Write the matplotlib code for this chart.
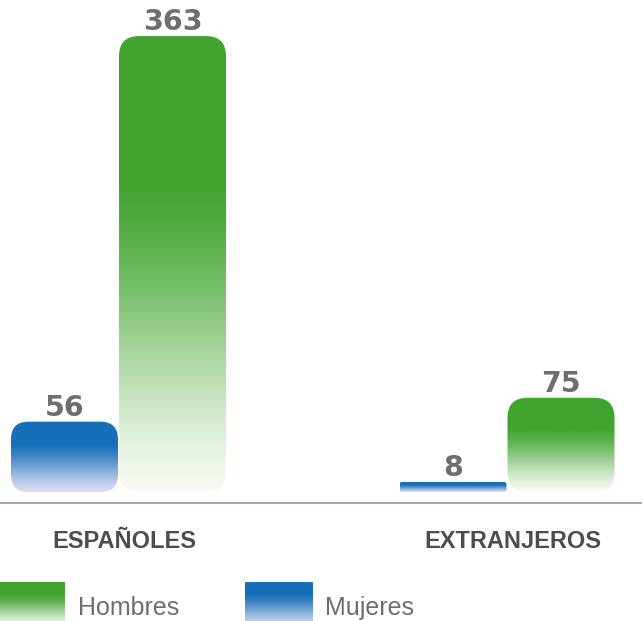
import numpy as np
import matplotlib
matplotlib.use("Agg")
import matplotlib.pyplot as plt
from matplotlib.patches import FancyBboxPatch
from matplotlib.colors import to_rgb

categories = ["ESPAÑOLES", "EXTRANJEROS"]
series_names = ["Mujeres", "Hombres"]
mujeres = [56, 8]
hombres = [363, 75]
colors = {"Hombres": "#40a42e", "Mujeres": "#1670b8"}
light = {"Hombres": "#f8fbf5", "Mujeres": "#d9ddf1"}

W, H = 642, 621
fig = plt.figure(figsize=(W / 100, H / 100), dpi=100)
ax = fig.add_axes([0, 0, 1, 1])
ax.set_axis_off()

# scales: px per unit
px_x = 388.5
px_y = 1.256
x0_px, y0_px = 118.5, 492.0
XL = (-x0_px / px_x, (W - x0_px) / px_x)
YL = (-(H - y0_px) / px_y, y0_px / px_y)
ax.set_xlim(*XL)
ax.set_ylim(*YL)

bar_w = 107 / px_x
radius_px = 20
mut_aspect = px_x / px_y


def gradient_fill(patch, x0, x1, y0, y1, top, bot, transform=None, solid=0.68):
    n = 256
    t = np.linspace(0, 1, n)
    u = np.clip(t / solid, 0, 1)
    f = 3 * u ** 2 - 2 * u ** 3
    f = 0.5 * f + 0.5 * u
    c1 = np.array(to_rgb(top))
    c0 = np.array(to_rgb(bot))
    rgb = c0[None, :] * (1 - f[:, None]) + c1[None, :] * f[:, None]
    img = np.ones((n, 1, 4))
    img[:, 0, :3] = rgb
    kw = {}
    if transform is not None:
        kw["transform"] = transform
    im = ax.imshow(img, extent=[x0, x1, y0, y1], origin="lower", aspect="auto",
                   interpolation="bilinear", zorder=2, **kw)
    im.set_clip_path(patch)


def draw_bar(xc, val, name):
    x0 = xc - bar_w / 2
    h_px = val * px_y
    r_px = min(radius_px, h_px / 4)
    patch = FancyBboxPatch((x0, 0), bar_w, val,
                           boxstyle=f"round,pad=0,rounding_size={r_px / px_x}",
                           mutation_aspect=mut_aspect,
                           facecolor="none", edgecolor="none", zorder=1)
    ax.add_patch(patch)
    gradient_fill(patch, x0, x0 + bar_w, 0, val, colors[name], light[name])
    ax.text(xc, val + 6 / px_y, f"{val}", ha="center", va="baseline",
            fontsize=20.5, fontweight="bold", color="#6e6e6e", family="DejaVu Sans")


offset = 54 / px_x
for i, cat in enumerate(categories):
    draw_bar(i - offset, mujeres[i], "Mujeres")
    draw_bar(i + offset, hombres[i], "Hombres")
    ax.text(i + 6 / px_x, -56 / px_y, cat, ha="center", va="baseline", fontsize=17,
            fontweight="bold", color="#4d4d4d", family="Liberation Sans")

ax.plot(XL, [-11 / px_y] * 2, color="#a8a8a8", lw=1.5, zorder=3)

# legend (axes fraction)
for name, lx, lw_, tx in [("Hombres", 0.0, 65, 78), ("Mujeres", 245, 68, 325)]:
    x0f = lx / W
    x1f = (lx + lw_) / W
    y0f = 0.0
    y1f = (H - 582) / H
    p = FancyBboxPatch((x0f, y0f), x1f - x0f, y1f - y0f, boxstyle="square,pad=0",
                       transform=ax.transAxes, facecolor="none", edgecolor="none")
    ax.add_patch(p)
    gradient_fill(p, x0f, x1f, y0f - 0.01, y1f, colors[name], light[name],
                  transform=ax.transAxes, solid=0.75)
    ax.text(tx / W, (H - 615) / H, name, transform=ax.transAxes, ha="left", va="baseline",
            fontsize=18, color="#6e6e6e", family="Liberation Sans")

ax.set_xlim(*XL)
ax.set_ylim(*YL)
fig.savefig("out.png", dpi=100)
